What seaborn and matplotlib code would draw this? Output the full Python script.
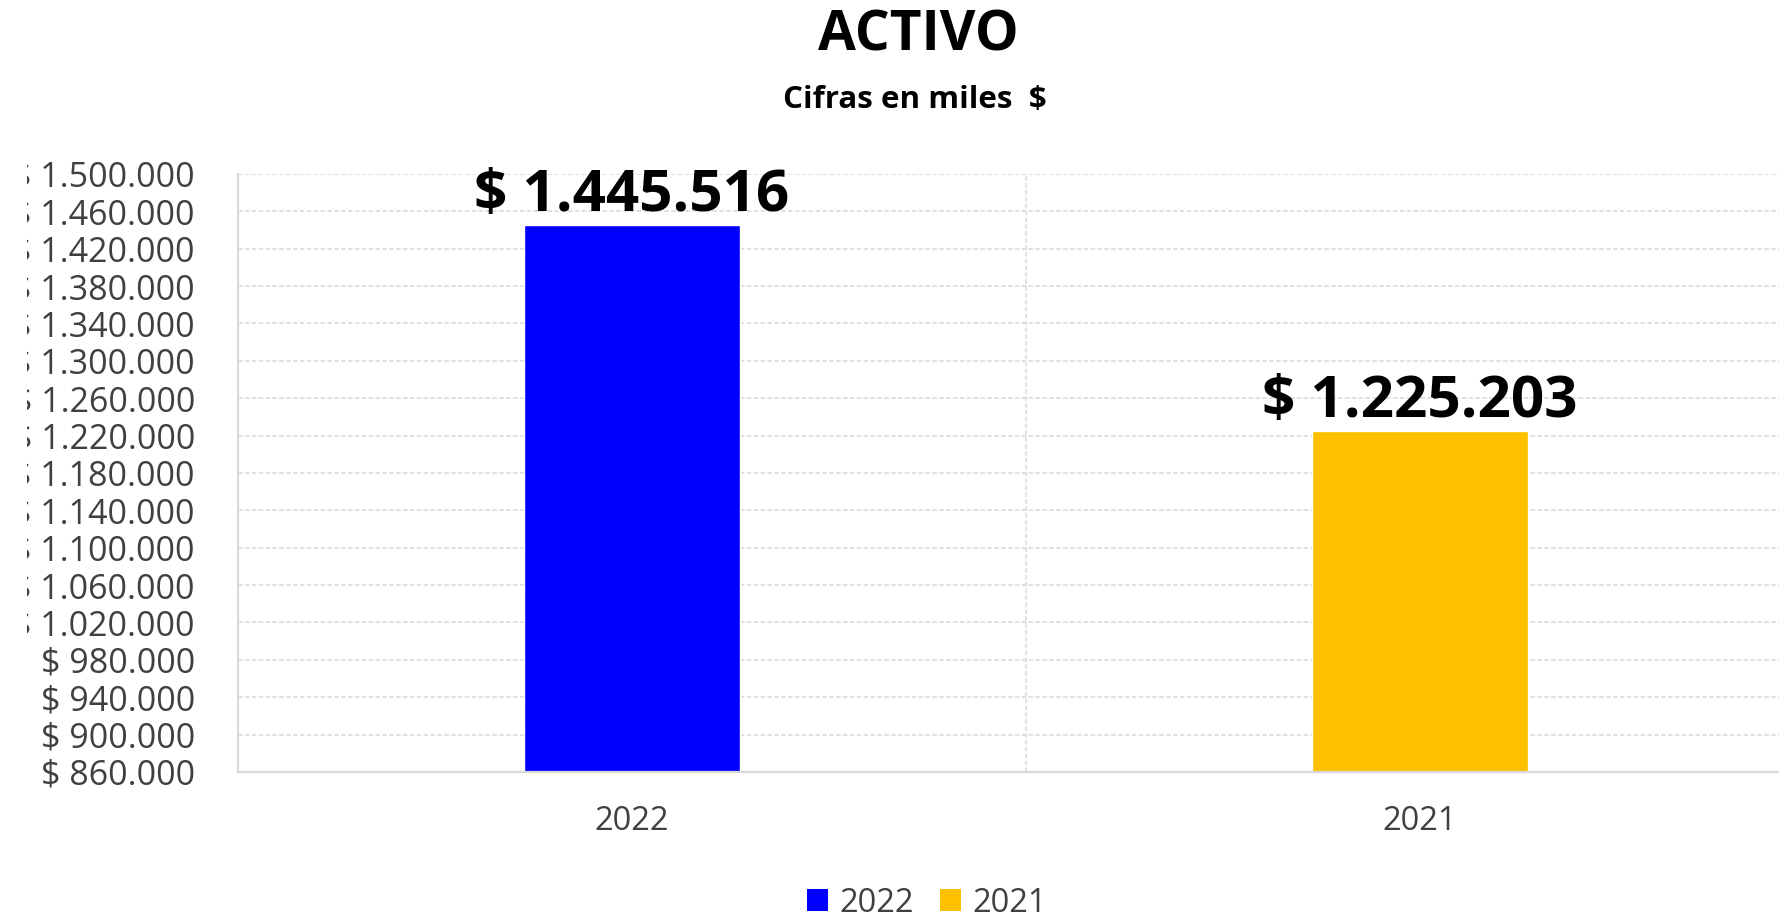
import matplotlib
matplotlib.use("Agg")
import matplotlib.pyplot as plt
import matplotlib.ticker as mticker
from matplotlib.patches import Patch
from matplotlib.transforms import Bbox, TransformedBbox
import seaborn as sns
import pandas as pd

# ---- data ----
categories = ["2022", "2021"]
values = [1445516, 1225203]
bar_colors = ["#0000FF", "#FFC000"]
y_ticks = list(range(860000, 1500001, 40000))
title = "ACTIVO"
subtitle = "Cifras en miles  $"


def money(v):
    return "$ " + f"{v:,.0f}".replace(",", ".")


sns.set_theme(style="white")
plt.rcParams["font.family"] = ["Open Sans", "DejaVu Sans"]

W, H = 1779, 918
fig = plt.figure(figsize=(W / 100, H / 100), dpi=100)
ax = fig.add_axes([238 / W, 1 - 772 / H, (1814 - 238) / W, (772 - 174) / H])

df = pd.DataFrame({"cat": categories, "val": values})
sns.barplot(data=df, x="cat", y="val", hue="cat", palette=bar_colors,
            width=0.274, ax=ax, legend=False, saturation=1)

ax.set_xlim(-0.5, 1.5)
ax.set_ylim(y_ticks[0], y_ticks[-1])
ax.yaxis.set_major_locator(mticker.FixedLocator(y_ticks))
ax.yaxis.set_major_formatter(mticker.FuncFormatter(lambda v, p: money(v)))
ax.set_xlabel("")
ax.set_ylabel("")

grid_c = "#D9D9D9"
ax.grid(axis="y", color=grid_c, linestyle=(0, (3, 1.5)), linewidth=1.1)
ax.set_axisbelow(True)
ax.axvline(0.5, color=grid_c, linestyle=(0, (3, 1.5)), linewidth=1.1, zorder=0)

for s in ["top", "right"]:
    ax.spines[s].set_visible(False)
for s in ["left", "bottom"]:
    ax.spines[s].set_color(grid_c)
    ax.spines[s].set_linewidth(1.6)

ax.tick_params(axis="y", length=0, pad=31, labelsize=24.5, labelcolor="#404040")
ax.tick_params(axis="x", length=0, pad=24, labelsize=23.5, labelcolor="#404040")

# clip y tick labels at the left edge of the chart area (as in the reference)
clip = TransformedBbox(Bbox([[27 / W, 0], [1, 1]]), fig.transFigure)
for t in ax.yaxis.get_major_ticks():
    t.label1.set_clip_box(clip)
    t.label1.set_clip_on(True)

for cont in ax.containers:
    ax.bar_label(cont, labels=[money(v) for v in cont.datavalues],
                 fontsize=42, fontweight="bold", color="black", padding=0)

fig.text(918 / W, 1 - 36 / H, title, ha="center", va="center",
         fontsize=39.5, fontweight="bold", color="black")
fig.text(915 / W, 1 - 100 / H, subtitle, ha="center", va="center",
         fontsize=22.5, fontweight="bold", color="black")

handles = [Patch(facecolor=c, edgecolor="none", label=l)
           for c, l in zip(bar_colors, categories)]
fig.legend(handles=handles, loc="center", bbox_to_anchor=(927 / W, 1 - 903 / H),
           ncol=2, frameon=False, fontsize=23.5, handlelength=0.65,
           handleheight=0.65, handletextpad=0.35, columnspacing=0.8,
           labelcolor="#404040")

fig.savefig("out.png", dpi=100, facecolor="white")
